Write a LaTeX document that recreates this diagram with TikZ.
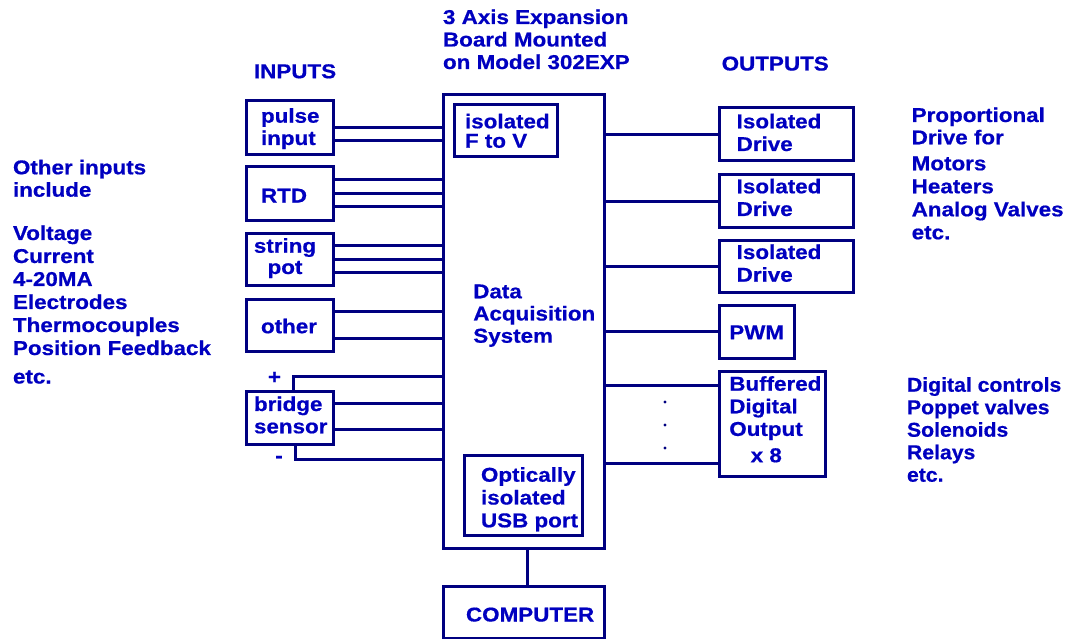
\documentclass[tikz,border=0pt]{standalone}
\usepackage{fontspec}
\setmainfont{Liberation Sans}[FakeStretch=1.12,BoldFeatures={FakeBold=0.6}]
\newfontfamily\narrowlbl{Liberation Sans}[FakeStretch=1.06,BoldFeatures={FakeBold=0.6}]
\definecolor{txtblue}{RGB}{0,0,192}
\definecolor{linenavy}{RGB}{0,0,128}
\begin{document}
\begin{tikzpicture}[x=1pt,y=-1pt,
  box/.style={draw=linenavy,line width=3pt,rectangle,inner sep=0pt,outer sep=0pt},
  wire/.style={draw=linenavy,line width=3pt},
  lbl/.style={text=txtblue,font=\fontsize{20}{22.5}\selectfont\bfseries,align=left,yshift=-1.5pt,
    inner sep=0pt,outer sep=0pt,anchor=north west,execute at begin node={\rule{0pt}{16pt}}},
  sign/.style={text=txtblue,font=\fontsize{20}{22.5}\selectfont\bfseries,inner sep=0pt,anchor=base},
]
\useasboundingbox (0,0) rectangle (1067,639);
\fill[white] (0,0) rectangle (1067,639);
% input boxes
\node[box,minimum width=87pt,minimum height=54pt] (pulse) at (289.5,128) {};
\node[box,minimum width=87pt,minimum height=53pt] (rtd) at (289.5,193.5) {};
\node[box,minimum width=87pt,minimum height=52pt] (string) at (289.5,259) {};
\node[box,minimum width=87pt,minimum height=52pt] (other) at (289.5,325) {};
\node[box,minimum width=87pt,minimum height=53pt] (bridge) at (289.5,417.5) {};
% main boxes
\node[box,minimum width=161pt,minimum height=453pt] (daq) at (523.5,321.5) {};
\node[box,minimum width=103pt,minimum height=52pt] (ftov) at (505.5,131) {};
\node[box,minimum width=118pt,minimum height=80pt] (usb) at (523,495) {};
\node[box,minimum width=161pt,minimum height=52pt] (comp) at (523.5,612) {};
% output boxes
\node[box,minimum width=134pt,minimum height=53pt] (drive1) at (786,134.5) {};
\node[box,minimum width=134pt,minimum height=52pt] (drive2) at (786,201) {};
\node[box,minimum width=134pt,minimum height=52pt] (drive3) at (786,266) {};
\node[box,minimum width=75pt,minimum height=53pt] (pwm) at (756.5,331.5) {};
\node[box,minimum width=106pt,minimum height=105pt] (buf) at (772,423.5) {};
% input wires
\foreach \y in {128,141} \draw[wire] (pulse.east |- 0,\y) -- (daq.west |- 0,\y);
\foreach \y in {180,193,206} \draw[wire] (rtd.east |- 0,\y) -- (daq.west |- 0,\y);
\foreach \y in {245,259,272} \draw[wire] (string.east |- 0,\y) -- (daq.west |- 0,\y);
\foreach \y in {311,338} \draw[wire] (other.east |- 0,\y) -- (daq.west |- 0,\y);
\foreach \y in {403,429} \draw[wire] (bridge.east |- 0,\y) -- (daq.west |- 0,\y);
\coordinate (pcorner) at (293,376);
\coordinate (mcorner) at (295,459);
\draw[wire] (bridge.north -| pcorner) -- (pcorner) -- (daq.west |- pcorner);
\draw[wire] (bridge.south -| mcorner) -- (mcorner) -- (daq.west |- mcorner);
% output wires
\draw[wire] (daq.east |- drive1.west) -- (drive1.west);
\draw[wire] (daq.east |- drive2.west) -- (drive2.west);
\draw[wire] (daq.east |- drive3.west) -- (drive3.west);
\draw[wire] (daq.east |- pwm.west) -- (pwm.west);
\foreach \y in {385,463} \draw[wire] (daq.east |- 0,\y) -- (buf.west |- 0,\y);
\foreach \y in {402,425,448} \fill[linenavy] (665,\y) circle (1.7pt);
% computer link
\coordinate (clink) at (527,0);
\draw[wire] (daq.south -| clink) -- (comp.north -| clink);
% texts
\node[lbl] (title) at (443,8) {3 Axis Expansion\\Board Mounted\\on Model 302EXP};
\node[lbl] (inputs) at (254,60.7) {INPUTS};
\node[lbl] (outputs) at (721.7,53) {OUTPUTS};
\node[lbl,font=\fontsize{20}{22.4}\selectfont\bfseries] (otherinc) at (13,158.3) {Other inputs\\include};
\node[lbl,font=\fontsize{20}{23}\selectfont\bfseries] (volt) at (13,224) {Voltage\\Current\\4-20MA\\Electrodes\\Thermocouples\\Position Feedback};
\node[lbl] (etcl) at (13,366) {etc.};
\node[lbl,font=\fontsize{20}{22.3}\selectfont\bfseries] (prop) at (911.7,106) {Proportional\\Drive for};
\node[lbl,font=\fontsize{20}{23}\selectfont\bfseries] (motors) at (911.7,155) {Motors\\Heaters\\Analog Valves\\etc.};
\node[lbl,font=\narrowlbl\fontsize{20}{22.5}\selectfont\bfseries] (digital) at (907,375.7) {Digital controls\\Poppet valves\\Solenoids\\Relays\\etc.};
\node[lbl,font=\fontsize{20}{22.3}\selectfont\bfseries] (pulse-t) at (261,106.7) {pulse\\input};
\node[lbl] (rtd-t) at (261,185) {RTD};
\node[lbl,align=center,anchor=north,font=\fontsize{20}{21.3}\selectfont\bfseries] (string-t) at (285,236.7) {string\\pot};
\node[lbl] (other-t) at (261,315.7) {other};
\node[lbl,font=\fontsize{20}{22.3}\selectfont\bfseries] (bridge-t) at (254,395) {bridge\\sensor};
\node[sign] (plus) at (274.5,383.7) {+};
\node[sign] (minus) at (279,462.3) {-};
\node[lbl,font=\fontsize{20}{19.4}\selectfont\bfseries] (ftov-t) at (465,112.3) {isolated\\F to V};
\node[lbl,font=\fontsize{20}{22.2}\selectfont\bfseries] (daq-t) at (473.3,283) {Data\\Acquisition\\System};
\node[lbl,font=\fontsize{20}{22.8}\selectfont\bfseries] (usb-t) at (481,465.7) {Optically\\isolated\\USB port};
\node[lbl] (comp-t) at (466,604) {COMPUTER};
\node[lbl,font=\fontsize{20}{22.7}\selectfont\bfseries] (drive1-t) at (736.7,112.3) {Isolated\\Drive};
\node[lbl,font=\fontsize{20}{22.7}\selectfont\bfseries] (drive2-t) at (736.7,177.3) {Isolated\\Drive};
\node[lbl,font=\fontsize{20}{22.7}\selectfont\bfseries] (drive3-t) at (736.7,243) {Isolated\\Drive};
\node[lbl] (pwm-t) at (729.3,321.7) {PWM};
\node[lbl,font=\fontsize{20}{22.6}\selectfont\bfseries] (buf-t) at (729.3,374.7) {Buffered\\Digital\\Output\\[3.7pt]\hspace*{21.4pt}x 8};
\end{tikzpicture}
\end{document}
